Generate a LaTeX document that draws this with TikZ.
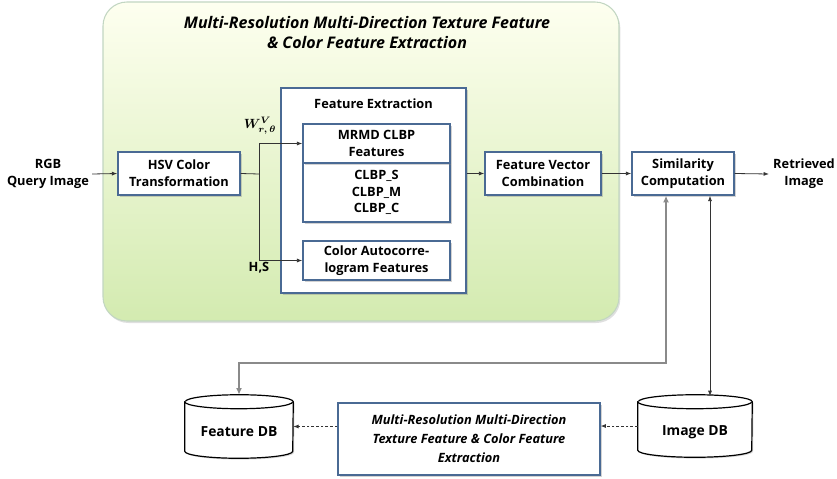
\documentclass[tikz,border=0pt]{standalone}
\usepackage{bm}
\usepackage{fontspec}
\setmainfont{Open Sans}
\usetikzlibrary{arrows.meta,shadows,calc}
\definecolor{boxblue}{HTML}{4A6A94}
\definecolor{lin}{HTML}{333333}
\definecolor{gline}{HTML}{8A8A8A}
\begin{document}
\begin{tikzpicture}[x=0.75pt,y=-0.75pt,
  every node/.style={font=\fontsize{9.6}{13}\selectfont\bfseries, align=center},
  bx/.style={draw=boxblue, line width=1.1pt, fill=white, inner sep=0pt,
    drop shadow={opacity=0.35, shadow xshift=1.2pt, shadow yshift=-1.2pt}},
  plain/.style={inner sep=0pt},
  con/.style={draw=lin, line width=0.6pt, -{Latex[length=4pt,width=3pt]}},
  dcon/.style={draw=lin, line width=0.6pt, dashed, dash pattern=on 2pt off 1.5pt, -{Latex[length=4pt,width=3pt]}},
  cyl/.style={draw=black, line width=0.9pt, fill=white}]
\useasboundingbox (0,0) rectangle (837,478);
% green region
\node[draw=green!20!gray!40, line width=0.8pt, rounded corners=18pt, top color=green!8!yellow!6!white, bottom color=green!40!yellow!25!white!92!black,
  minimum width=516*0.75pt, minimum height=319*0.75pt, drop shadow={opacity=0.25, shadow xshift=1pt, shadow yshift=-1.5pt}] (green) at (361,161.5) {};
\node[font=\fontsize{12}{14.5}\selectfont\bfseries\itshape] (title) at (367,32.5) {Multi-Resolution Multi-Direction Texture Feature\\\& Color Feature Extraction};
% left
\node[plain] (rgb) at (48,174) {RGB\\Query Image};
\node[bx, minimum width=122*0.75pt, minimum height=43*0.75pt] (hsv) at (179,173.5) {HSV Color\\Transformation};
% feature extraction
\node[bx, minimum width=185*0.75pt, minimum height=205*0.75pt] (fe) at (373.5,190.5) {};
\node[plain] (fetitle) at (373.5,104) {Feature Extraction};
\node[bx, minimum width=147*0.75pt, minimum height=59*0.75pt, font=\fontsize{9.6}{12.5}\selectfont\bfseries] (clbp) at (376.5,192.5) {CLBP\_S\\CLBP\_M\\CLBP\_C};
\node[bx, minimum width=147*0.75pt, minimum height=39*0.75pt] (mrmd) at (376.5,143.5) {MRMD CLBP\\Features};
\node[bx, minimum width=147*0.75pt, minimum height=39*0.75pt] (cac) at (376.5,260.5) {Color Autocorre-\\logram Features};
\node[plain, font=\fontsize{10}{12}\selectfont] (w) at (260,126) {$\bm{W^{V}_{r,\,\theta}}$};
\node[plain] (hs) at (259,268) {H,S};
% right
\node[bx, minimum width=116*0.75pt, minimum height=43*0.75pt] (fvc) at (543,173.5) {Feature Vector\\Combination};
\node[bx, minimum width=102*0.75pt, minimum height=43*0.75pt] (sim) at (683,173.5) {Similarity\\Computation};
\node[plain] (ret) at (804,174) {Retrieved\\Image};
% bottom
\node[minimum width=108*0.75pt, minimum height=63*0.75pt, inner sep=0pt] (fdb) at (239,426.5) {};
\node[minimum width=114*0.75pt, minimum height=62*0.75pt, inner sep=0pt] (idb) at (695,426) {};
\draw[cyl, drop shadow={opacity=0.3, shadow xshift=1pt, shadow yshift=-1pt}] ([yshift=-5.25pt]fdb.north west) -- ([yshift=5.25pt]fdb.south west) arc[start angle=180,end angle=0,x radius=54,y radius=7] -- ([yshift=-5.25pt]fdb.north east) arc[start angle=360,end angle=180,x radius=54,y radius=7] -- cycle;
\draw[cyl] ([yshift=-5.25pt]fdb.north west) arc[start angle=180,end angle=0,x radius=54,y radius=7];
\draw[cyl, drop shadow={opacity=0.3, shadow xshift=1pt, shadow yshift=-1pt}] ([yshift=-5.25pt]idb.north west) -- ([yshift=5.25pt]idb.south west) arc[start angle=180,end angle=0,x radius=57,y radius=7] -- ([yshift=-5.25pt]idb.north east) arc[start angle=360,end angle=180,x radius=57,y radius=7] -- cycle;
\draw[cyl] ([yshift=-5.25pt]idb.north west) arc[start angle=180,end angle=0,x radius=57,y radius=7];
\node[plain, font=\fontsize{10.4}{13}\selectfont\bfseries] (fdbl) at (239,432) {Feature DB};
\node[plain, font=\fontsize{10.4}{13}\selectfont\bfseries] (idbl) at (695,432) {Image DB};
\node[bx, line width=0.9pt, minimum width=262*0.75pt, minimum height=72*0.75pt, font=\fontsize{9.6}{14.3}\selectfont\bfseries\itshape] (mid) at (469,439) {Multi-Resolution Multi-Direction\\Texture Feature \& Color Feature\\Extraction};
% connectors
\coordinate (j) at (259,174);
\draw[con] (rgb.east) ++(3,0) -- (hsv.west);
\draw[draw=lin, line width=0.6pt] (hsv.east) -- (j);
\draw[con] (j) |- (mrmd.west);
\draw[con] (j) |- (cac.west);
\draw[con] (fe.east |- fvc.west) -- (fvc.west);
\draw[con] (fvc.east) -- (sim.west);
\draw[con] (sim.east) -- ([xshift=-3]ret.west);
\coordinate (c1) at (666,363);
\coordinate (c2) at (710,363);
\draw[draw=gline, line width=1.2pt, {Latex[length=5pt,width=4.5pt]}-{Latex[length=5pt,width=4.5pt]}] (sim.south -| c1) -- (c1) -| (fdb.north);
\draw[con, {Latex[length=4pt,width=3pt]}-{Latex[length=4pt,width=3pt]}] (sim.south -| c2) -- ([yshift=-1]idb.north -| c2);
\draw[dcon] (idb.west) -- (mid.east |- idb.west);
\draw[dcon] (mid.west |- fdb.east) -- (fdb.east);
\end{tikzpicture}
\end{document}
